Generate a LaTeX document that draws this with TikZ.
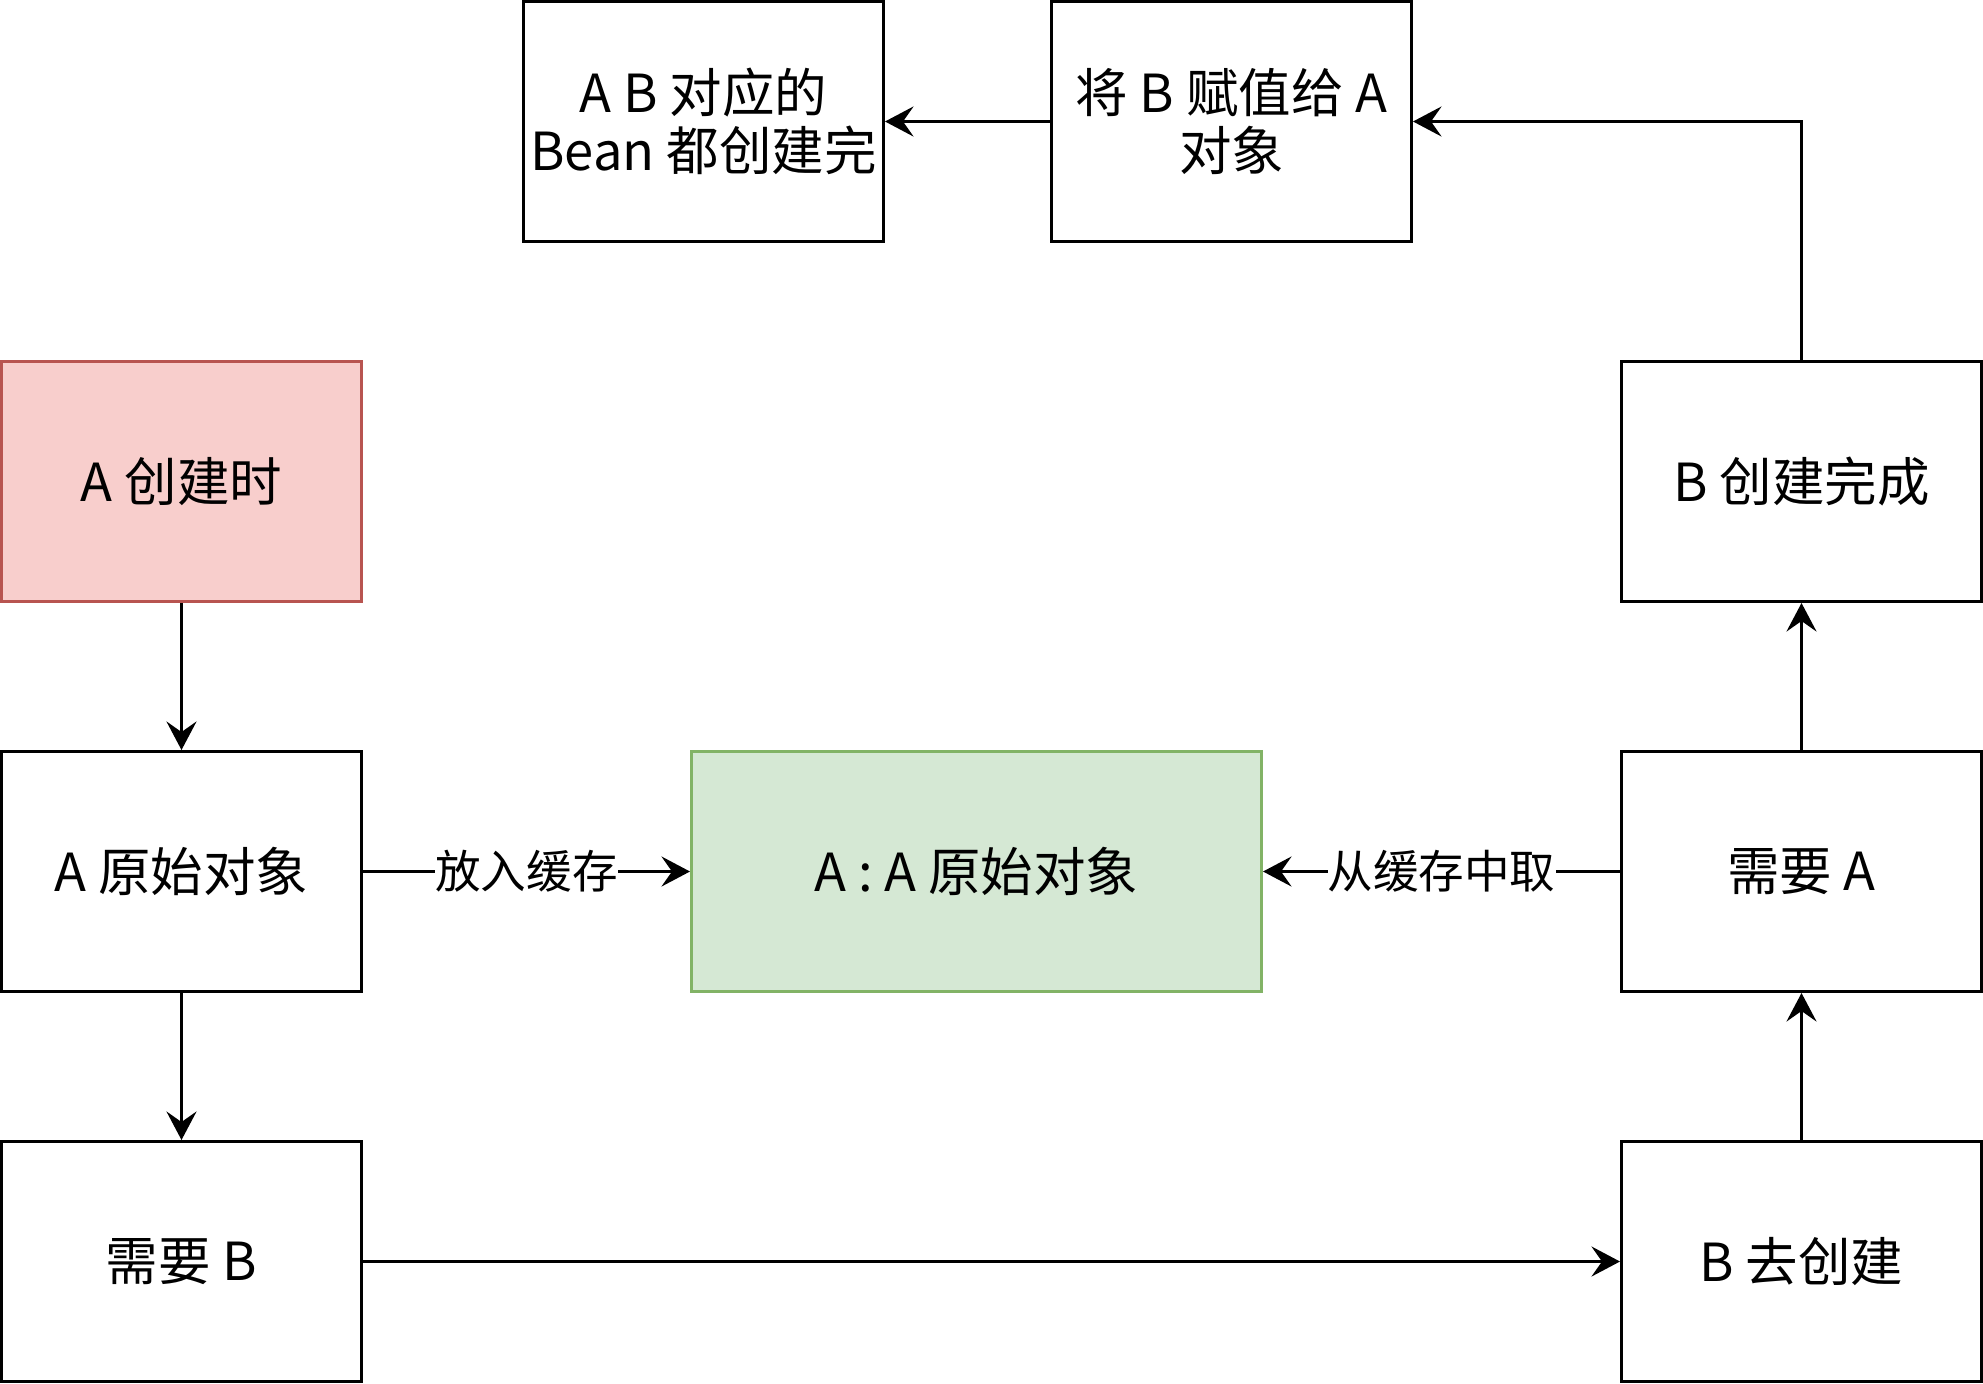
\documentclass[tikz,border=0pt]{standalone}
\usepackage{fontspec}
\setmainfont{Noto Sans CJK SC}
\usetikzlibrary{arrows.meta}
\definecolor{redfill}{HTML}{F8CECC}
\definecolor{redline}{HTML}{B85450}
\definecolor{greenfill}{HTML}{D5E8D4}
\definecolor{greenline}{HTML}{82B366}
\begin{document}
\begin{tikzpicture}[x=1pt,y=-1pt,
  box/.style={draw=black,line width=1pt,minimum width=120pt,minimum height=80pt,inner sep=0pt,
    align=center,font=\fontsize{17.5pt}{19.4pt}\selectfont},
  wide/.style={box,minimum width=190pt},
  conn/.style={line width=1pt,-{Stealth[length=9.5pt,width=10pt,inset=3.5pt]}},
  lbl/.style={fill=white,inner sep=0pt,font=\fontsize{15.2pt}{18pt}\selectfont}]
\useasboundingbox (-0.5,-0.5) rectangle (660.5,460.5);
\node[box] (ab) at (234,40) {A B 对应的\\Bean 都创建完};
\node[box] (assign) at (410,40) {将 B 赋值给 A\\对象};
\node[box,fill=redfill,draw=redline] (acreate) at (60,160) {A 创建时};
\node[box] (bdone) at (600,160) {B 创建完成};
\node[box] (araw) at (60,290) {A 原始对象};
\node[wide,fill=greenfill,draw=greenline] (cache) at (325,290) {A : A 原始对象};
\node[box] (needa) at (600,290) {需要 A};
\node[box] (needb) at (60,420) {需要 B};
\node[box] (bcreate) at (600,420) {B 去创建};
\draw[conn] (acreate) -- (araw);
\draw[conn] (araw) -- (needb);
\draw[conn] (araw) -- node[lbl] {放入缓存} (cache);
\draw[conn] (needa) -- node[lbl] {从缓存中取} (cache);
\draw[conn] (needb) -- (bcreate);
\draw[conn] (bcreate) -- (needa);
\draw[conn] (needa) -- (bdone);
\draw[conn] (bdone.north) |- (assign.east);
\draw[conn] (assign) -- (ab);
\end{tikzpicture}
\end{document}
